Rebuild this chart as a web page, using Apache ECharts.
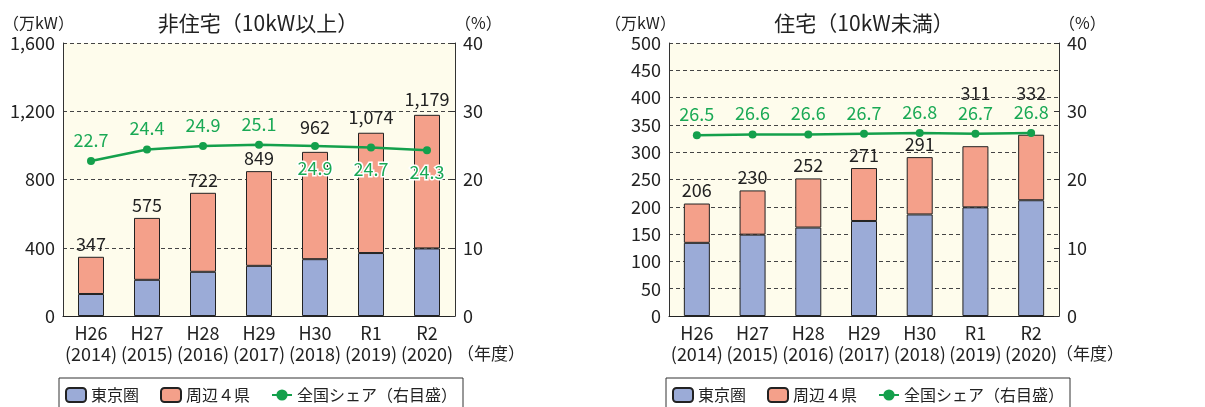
<!DOCTYPE html>
<html>
<head>
<meta charset="utf-8">
<script src="https://cdn.jsdelivr.net/npm/echarts@6/dist/echarts.min.js"></script>
<style>
  html, body { margin: 0; padding: 0; background: #fff; }
  #chart { width: 1205px; height: 407px; }
</style>
</head>
<body>
<div id="chart"></div>
<script>
// 年度ラベル
const eras = ['H26', 'H27', 'H28', 'H29', 'H30', 'R1', 'R2']
const years = ['2014', '2015', '2016', '2017', '2018', '2019', '2020']

// 非住宅（10kW以上）
const nonResTokyo = [129, 212, 259, 294, 333, 369, 396]
const nonResOther = [218, 363, 463, 555, 629, 705, 783]
const nonResTotal = [347, 575, 722, 849, 962, 1074, 1179]
const nonResShare = [22.7, 24.4, 24.9, 25.1, 24.9, 24.7, 24.3]

// 住宅（10kW未満）
const resTokyo = [134, 149, 162, 174, 186, 199, 212]
const resOther = [72, 81, 90, 97, 105, 112, 120]
const resTotal = [206, 230, 252, 271, 291, 311, 332]
const resShare = [26.5, 26.6, 26.6, 26.7, 26.8, 26.7, 26.8]

const FONT = '"Noto Sans CJK JP", "Noto Sans", sans-serif'
const BLUE = '#9babd7'
const SALMON = '#f4a08a'
const GREEN = '#14a04c'
const GREEN_TXT = '#1aa955'
const categories = eras.map((e, i) => e + '\n(' + years[i] + ')')

const chart = echarts.init(document.getElementById('chart'))

function xAxisOf(gridIndex) {
  return {
    type: 'category',
    gridIndex,
    data: categories,
    axisLine: { lineStyle: { color: '#222', width: 1.2 } },
    axisTick: { inside: true, length: 7, lineStyle: { color: '#222' } },
    axisLabel: { interval: 0, color: '#222', fontSize: 18, lineHeight: 21, margin: 7, fontFamily: FONT }
  }
}

function leftAxisOf(gridIndex, max, interval, fmt) {
  return {
    type: 'value',
    gridIndex,
    min: 0,
    max,
    interval,
    axisLine: { show: true, lineStyle: { color: '#333' } },
    axisTick: { show: false },
    axisLabel: { color: '#222', fontSize: 18, margin: 8, fontFamily: FONT, formatter: fmt },
    splitLine: { lineStyle: { color: '#444', type: [4, 3], width: 1 } }
  }
}

function rightAxisOf(gridIndex) {
  return {
    type: 'value',
    gridIndex,
    position: 'right',
    min: 0,
    max: 40,
    interval: 10,
    axisLine: { show: true, lineStyle: { color: '#333' } },
    axisTick: { show: true, inside: true, length: 5, lineStyle: { color: '#333' } },
    axisLabel: { color: '#222', fontSize: 18, margin: 8, fontFamily: FONT },
    splitLine: { show: false }
  }
}

// 合計ラベルは折れ線ラベルと重ならないよう一部だけ持ち上げる
function barSeries(name, data, color, xi, yi, totals, lift) {
  const s = {
    name,
    type: 'bar',
    stack: 'g' + xi,
    xAxisIndex: xi,
    yAxisIndex: yi,
    barWidth: 26,
    data,
    itemStyle: { color, borderColor: '#222', borderWidth: 1 }
  }
  if (totals) {
    s.data = data.map((v, i) => ({
      value: v,
      label: { distance: (lift && lift[i]) || 4 }
    }))
    s.label = {
      show: true,
      position: 'top',
      color: '#222',
      fontSize: 18,
      fontFamily: FONT,
      formatter: p => totals[p.dataIndex].toLocaleString('en-US')
    }
  }
  return s
}

function lineSeries(data, xi, yi, belowFrom) {
  return {
    name: '全国シェア（右目盛）',
    type: 'line',
    xAxisIndex: xi,
    yAxisIndex: yi,
    symbol: 'circle',
    symbolSize: 8,
    z: 5,
    lineStyle: { color: GREEN, width: 2.5 },
    itemStyle: { color: GREEN },
    data: data.map((v, i) => {
      const below = belowFrom != null && i >= belowFrom
      return {
        value: v,
        label: below
          ? { position: 'bottom', distance: 9, textBorderColor: '#fff', textBorderWidth: 3 }
          : { position: 'top', distance: 8 }
      }
    }),
    label: {
      show: true,
      color: GREEN_TXT,
      fontSize: 18,
      fontFamily: FONT,
      formatter: p => p.value.toFixed(1)
    }
  }
}

function legendOf(left) {
  return {
    left,
    top: 378,
    orient: 'horizontal',
    selectedMode: false,
    data: ['東京圏', '周辺４県', '全国シェア（右目盛）'],
    itemWidth: 20,
    itemHeight: 14,
    itemGap: 21,
    padding: [9, 6, 12, 6],
    borderColor: '#333',
    borderWidth: 1,
    textStyle: { color: '#222', fontSize: 16, fontFamily: FONT }
  }
}

function text(x, y, str, size, align) {
  return {
    type: 'text',
    x,
    y,
    style: {
      text: str,
      fill: '#222',
      font: size + 'px ' + FONT,
      align: align || 'left',
      verticalAlign: 'middle'
    }
  }
}

chart.setOption({
  animation: false,
  grid: [
    { left: 63, width: 392, top: 43, height: 273, show: true, backgroundColor: '#fefcec', borderWidth: 0 },
    { left: 669, width: 390, top: 43, height: 273, show: true, backgroundColor: '#fefcec', borderWidth: 0 }
  ],
  legend: [legendOf(59), legendOf(666)],
  xAxis: [xAxisOf(0), xAxisOf(1)],
  yAxis: [
    leftAxisOf(0, 1600, 400, v => v.toLocaleString('en-US')),
    rightAxisOf(0),
    leftAxisOf(1, 500, 50),
    rightAxisOf(1)
  ],
  series: [
    barSeries('東京圏', nonResTokyo, BLUE, 0, 0),
    barSeries('周辺４県', nonResOther, SALMON, 0, 0, nonResTotal, { 4: 16, 5: 7, 6: 7 }),
    lineSeries(nonResShare, 0, 1, 4),
    barSeries('東京圏', resTokyo, BLUE, 1, 2),
    barSeries('周辺４県', resOther, SALMON, 1, 2, resTotal, { 5: 44, 6: 33 }),
    lineSeries(resShare, 1, 3)
  ],
  graphic: [
    text(258, 23, '非住宅（10kW以上）', 21, 'center'),
    text(864, 23, '住宅（10kW未満）', 21, 'center'),
    text(3, 23, '（万kW）', 16),
    text(455, 23, '（%）', 16),
    text(605, 23, '（万kW）', 16),
    text(1059, 23, '（%）', 16),
    text(457, 354, '（年度）', 17),
    text(1056, 354, '（年度）', 17)
  ]
})
</script>
</body>
</html>
